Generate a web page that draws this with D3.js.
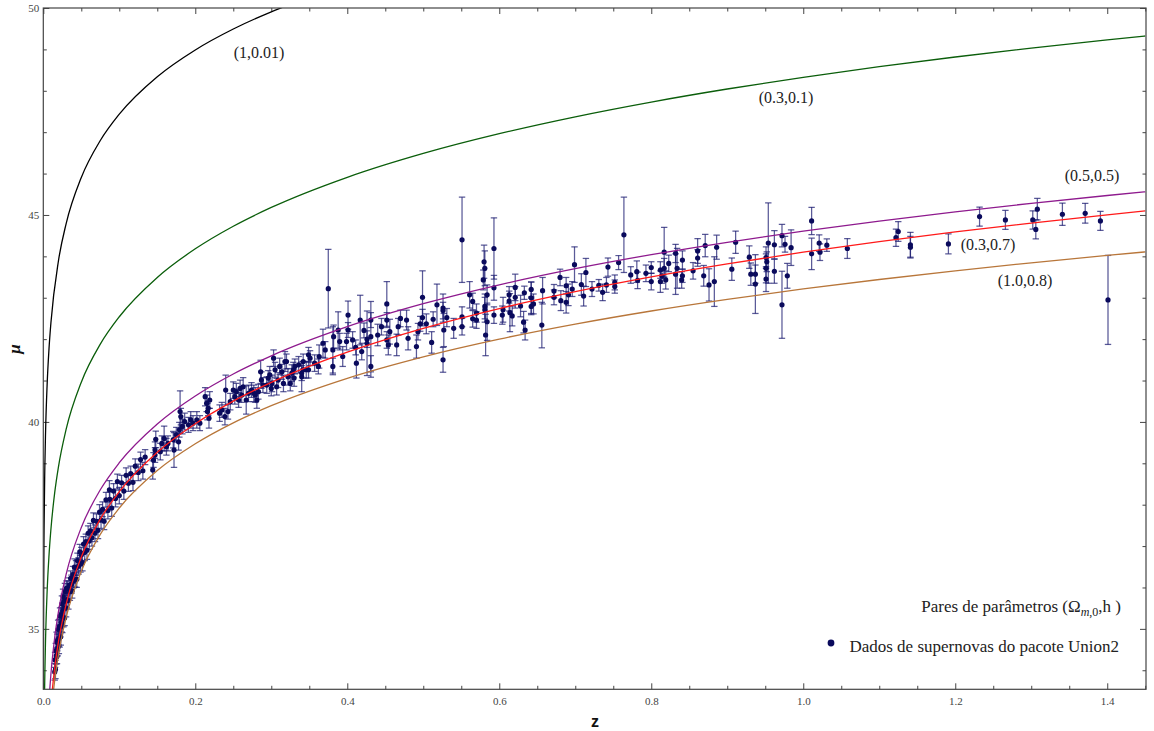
<!DOCTYPE html>
<html><head><meta charset="utf-8">
<script src="https://cdn.jsdelivr.net/npm/d3@7"></script>
<style>
body{margin:0;background:#fff}
svg{display:block}
text{font-family:"Liberation Serif","Times New Roman",serif}
</style>
</head><body><svg id="chart" width="1154" height="731"></svg>
<script>
// ---- axis settings / tick labels ----
const xDomain = [0, 1.451];
const yDomain = [33.54, 50];
const xMajorTicks = [0, 0.2, 0.4, 0.6, 0.8, 1.0, 1.2, 1.4];
const yMajorTicks = [35, 40, 45, 50];

// ---- theoretical curves (Omega_m0, h), read as sampled values ----
const zBlack  = [0.00015,0.0002,0.0005,0.001,0.002,0.003,0.005,0.0075,0.01,0.02,0.03,0.05,0.075,0.1,0.15,0.2,0.25,0.3,0.32];
const muBlack = [33.265,33.889,35.879,37.385,38.890,39.771,40.882,41.764,42.390,43.900,44.786,45.905,46.798,47.435,48.339,48.986,49.492,49.907,50.055];

const zGreen  = [0.0015,0.002,0.003,0.005,0.0075,0.01,0.015,0.02,0.03,0.05,0.075,0.1,0.15,0.2,0.25,0.3,0.4,0.5,0.6,0.7,0.8,0.9,1.0,1.1,1.2,1.3,1.4,1.45];
const muGreen = [33.265,33.894,34.775,35.890,36.772,37.401,38.290,38.922,39.819,40.960,41.879,42.541,43.491,44.182,44.728,45.181,45.910,46.487,46.964,47.372,47.728,48.043,48.326,48.582,48.816,49.031,49.230,49.324];

const zPurple  = [0.008,0.01,0.015,0.02,0.03,0.05,0.075,0.1,0.15,0.2,0.25,0.3,0.4,0.5,0.6,0.7,0.8,0.9,1.0,1.1,1.2,1.3,1.4,1.45];
const muPurple = [33.416,33.903,34.790,35.421,36.315,37.449,38.360,39.014,39.950,40.626,41.157,41.597,42.301,42.855,43.312,43.702,44.040,44.340,44.609,44.853,45.076,45.281,45.470,45.560];

const zRed  = [0.01,0.015,0.02,0.03,0.05,0.075,0.1,0.15,0.2,0.25,0.3,0.4,0.5,0.6,0.7,0.8,0.9,1.0,1.1,1.2,1.3,1.4,1.45];
const muRed = [33.175,34.064,34.697,35.594,36.735,37.653,38.315,39.266,39.956,40.502,40.955,41.685,42.261,42.739,43.147,43.503,43.818,44.100,44.356,44.590,44.805,45.004,45.098];

const zBrown  = [0.012,0.015,0.02,0.03,0.05,0.075,0.1,0.15,0.2,0.25,0.3,0.4,0.5,0.6,0.7,0.8,0.9,1.0,1.1,1.2,1.3,1.4,1.45];
const muBrown = [33.271,33.757,34.385,35.271,36.390,37.283,37.920,38.824,39.471,39.977,40.392,41.054,41.573,42.000,42.363,42.680,42.961,43.213,43.441,43.651,43.844,44.023,44.108];

const curveNames  = ["(1,0.01)","(0.3,0.1)","(0.5,0.5)","(0.3,0.7)","(1.0,0.8)"];
const curveColors = ["#000000","#0b5e0b","#8e1a8e","#ff1a1a","#b8763a"];

// ---- Union2 supernovae: [z, mu, error] ----
const snPoints = [
[0.0150,33.96,0.20],[0.0155,34.25,0.18],[0.0160,34.02,0.22],[0.0165,34.47,0.18],[0.0170,34.35,0.20],
[0.0175,34.70,0.22],[0.0180,34.34,0.18],[0.0185,34.67,0.20],[0.0190,34.53,0.18],[0.0195,34.99,0.22],
[0.0200,34.75,0.18],[0.0205,34.60,0.20],[0.0210,35.05,0.18],[0.0215,34.78,0.22],[0.0220,35.31,0.20],
[0.0225,35.06,0.18],[0.0230,34.81,0.20],[0.0235,35.34,0.18],[0.0240,35.15,0.22],[0.0245,35.60,0.20],
[0.0250,35.09,0.18],[0.0255,35.43,0.20],[0.0260,35.78,0.18],[0.0265,35.27,0.22],[0.0270,35.66,0.18],
[0.0275,35.50,0.20],[0.0280,35.26,0.18],[0.0285,35.90,0.20],[0.0290,35.67,0.18],[0.0300,35.51,0.22],
[0.0305,35.98,0.18],[0.0310,35.71,0.20],[0.0320,35.98,0.18],[0.0330,35.68,0.20],[0.0340,36.05,0.18],
[0.0350,35.89,0.20],[0.0360,36.22,0.18],[0.0370,36.08,0.22],[0.0380,35.92,0.18],[0.0390,36.31,0.20],
[0.0400,36.17,0.18],[0.0410,36.49,0.20],[0.0420,36.19,0.18],[0.0430,36.47,0.18],[0.0440,36.20,0.20],
[0.0450,36.65,0.18],[0.0465,36.52,0.20],[0.0480,36.86,0.18],[0.0490,36.57,0.20],[0.0500,36.79,0.18],
[0.0515,36.60,0.20],[0.0530,37.05,0.18],[0.0545,36.85,0.20],[0.0560,37.11,0.18],[0.0575,36.90,0.22],
[0.0590,37.31,0.18],[0.0605,37.12,0.20],[0.0620,37.37,0.18],[0.0640,37.20,0.20],[0.0660,37.62,0.18],
[0.0680,37.31,0.20],[0.0700,37.60,0.18],[0.0720,37.38,0.20],[0.0740,37.82,0.18],[0.0760,37.63,0.20],
[0.0780,37.89,0.18],[0.0800,37.60,0.20],[0.0825,38.12,0.18],[0.0850,37.86,0.20],[0.0875,38.13,0.18],
[0.0870,38.36,0.22],[0.0900,37.92,0.20],[0.0925,38.33,0.18],[0.0950,38.15,0.20],[0.0975,38.56,0.18],
[0.1000,38.22,0.20],[0.1030,38.53,0.18],[0.1060,38.33,0.20],[0.1090,38.71,0.18],[0.1120,38.52,0.20],
[0.1150,38.75,0.18],[0.1180,38.54,0.20],[0.1210,38.93,0.18],[0.1250,38.78,0.20],[0.1280,39.09,0.18],
[0.1310,38.82,0.20],[0.1340,39.15,0.18],
[0.144,38.84,0.22],[0.145,39.08,0.18],[0.147,39.32,0.20],[0.148,39.58,0.20],[0.147,39.20,0.18],
[0.154,39.28,0.20],[0.156,39.48,0.18],[0.159,39.60,0.30],[0.162,39.40,0.20],[0.164,39.48,0.18],
[0.171,39.57,0.20],[0.172,39.32,0.42],[0.175,39.69,0.18],[0.178,39.52,0.20],[0.179,39.81,0.18],
[0.180,40.25,0.50],[0.181,40.13,0.20],[0.183,39.89,0.18],[0.186,40.01,0.20],[0.191,39.93,0.18],
[0.194,40.05,0.20],[0.197,39.97,0.18],[0.202,40.05,0.20],[0.206,39.97,0.18],[0.213,40.61,0.22],
[0.215,40.45,0.20],[0.217,40.33,0.18],[0.216,40.25,0.20],[0.218,40.09,0.24],[0.219,40.53,0.20],
[0.232,40.21,0.20],[0.235,40.29,0.18],[0.239,40.13,0.20],[0.240,40.77,0.36],[0.243,40.25,0.18],
[0.246,40.49,0.20],[0.250,40.77,0.20],[0.252,40.61,0.18],[0.254,40.73,0.20],[0.257,40.53,0.18],
[0.259,40.81,0.20],[0.261,40.65,0.18],[0.263,40.85,0.22],[0.267,40.53,0.34],[0.270,40.69,0.20],
[0.274,40.77,0.18],[0.277,40.69,0.20],[0.279,40.65,0.18],[0.281,40.53,0.20],[0.283,40.73,0.18],
[0.286,41.21,0.28],[0.287,41.01,0.20],[0.289,40.89,0.18],[0.294,40.89,0.20],[0.296,41.06,0.18],
[0.298,41.14,0.20],[0.300,40.81,0.18],[0.301,40.93,0.20],[0.303,41.54,0.20],[0.305,41.26,0.18],
[0.307,40.85,0.20],[0.309,41.01,0.18],[0.311,41.34,0.20],[0.314,41.21,0.18],[0.316,40.93,0.20],
[0.318,41.46,0.24],[0.320,41.46,0.18],[0.322,41.09,0.20],[0.325,40.93,0.18],[0.327,41.18,0.20],
[0.329,41.26,0.18],[0.330,41.06,0.20],[0.331,41.34,0.18],[0.336,41.38,0.20],[0.340,41.09,0.36],
[0.340,41.18,0.18],[0.342,41.26,0.20],[0.342,41.46,0.18],[0.346,41.26,0.20],[0.349,41.62,0.18],
[0.349,41.26,0.20],[0.351,41.54,0.18],[0.357,41.42,0.20],[0.362,41.34,0.18],[0.363,41.58,0.28],
[0.368,41.90,0.34],[0.371,41.74,0.20],[0.375,43.22,0.95],[0.381,41.74,0.56],[0.381,41.34,0.20],
[0.382,42.06,0.28],[0.388,42.22,0.44],[0.390,41.94,0.20],[0.394,41.58,0.24],[0.399,41.94,0.20],
[0.401,42.58,0.34],[0.401,42.22,0.18],[0.407,41.98,0.20],[0.411,41.80,0.18],[0.412,41.42,0.36],
[0.417,42.46,0.60],[0.419,41.70,0.20],[0.422,42.21,0.18],[0.426,41.90,0.78],[0.426,42.00,0.20],
[0.431,42.06,0.85],[0.431,42.46,0.18],[0.431,41.34,0.26],[0.440,42.10,0.26],[0.445,42.30,0.20],
[0.452,42.85,0.54],[0.452,42.46,0.18],[0.452,41.98,0.20],[0.454,41.86,0.24],[0.456,42.18,0.30],
[0.465,41.86,0.26],[0.467,42.30,0.20],[0.470,42.50,0.20],[0.478,42.46,0.24],[0.480,42.02,0.28],
[0.491,41.82,0.28],[0.493,42.18,0.20],[0.496,42.37,0.18],[0.499,43.01,0.64],[0.499,42.52,0.20],
[0.504,42.37,0.24],[0.511,41.92,0.26],[0.513,42.48,0.18],[0.518,42.83,0.50],[0.526,42.75,0.34],
[0.526,42.69,0.20],[0.526,41.50,0.30],[0.527,42.22,0.40],[0.531,42.52,0.22],[0.540,42.26,0.24],
[0.551,44.40,1.03],[0.551,42.54,0.24],[0.551,42.30,0.20],[0.561,43.07,0.32],[0.565,42.91,0.20],
[0.565,42.49,0.20],[0.570,42.63,0.22],[0.570,42.46,0.20],[0.579,43.43,0.24],[0.580,43.87,0.40],
[0.581,43.71,0.42],[0.581,42.79,0.30],[0.581,42.71,0.30],[0.582,42.10,0.50],[0.584,42.42,0.45],
[0.584,43.07,0.24],[0.593,44.19,0.74],[0.593,43.24,0.30],[0.593,42.58,0.20],[0.604,42.58,0.22],
[0.605,42.71,0.30],[0.613,42.92,0.24],[0.613,43.07,0.20],[0.614,42.64,0.46],[0.617,42.56,0.24],
[0.621,43.25,0.32],[0.621,43.01,0.26],[0.628,42.80,0.26],[0.632,42.41,0.26],[0.633,43.12,0.16],
[0.634,42.22,0.24],[0.642,43.00,0.38],[0.642,43.20,0.18],[0.642,42.79,0.20],[0.645,42.85,0.24],
[0.656,42.34,0.55],[0.657,43.17,0.32],[0.672,43.01,0.18],[0.672,43.16,0.16],[0.680,43.49,0.20],
[0.681,42.93,0.24],[0.688,42.89,0.26],[0.688,43.29,0.20],[0.691,43.07,0.26],[0.696,43.21,0.18],
[0.699,43.80,0.43],[0.708,43.32,0.26],[0.711,43.04,0.24],[0.714,43.61,0.34],[0.722,43.21,0.18],
[0.731,43.30,0.14],[0.736,43.13,0.20],[0.741,43.31,0.18],[0.743,43.74,0.22],[0.752,43.27,0.16],
[0.752,43.37,0.18],[0.757,43.85,0.17],[0.764,44.52,0.91],[0.773,43.55,0.20],[0.781,43.63,0.26],
[0.782,43.42,0.20],[0.793,43.59,0.20],
[0.800,43.73,0.14],[0.800,43.39,0.20],[0.812,43.67,0.20],[0.812,43.39,0.26],[0.814,43.53,0.18],
[0.817,44.10,0.60],[0.817,43.71,0.24],[0.819,43.43,0.22],[0.823,43.83,0.20],[0.832,44.07,0.22],
[0.832,43.57,0.49],[0.834,43.71,0.48],[0.840,43.43,0.20],[0.841,43.53,0.16],[0.841,43.91,0.22],
[0.855,43.65,0.20],[0.861,44.13,0.30],[0.861,43.96,0.20],[0.869,43.53,0.25],[0.871,44.26,0.27],
[0.876,43.31,0.39],[0.883,43.39,0.60],[0.886,44.22,0.29],[0.906,43.69,0.27],[0.911,44.34,0.27],
[0.929,43.98,0.27],[0.931,43.57,0.27],[0.937,43.57,0.22],[0.937,43.33,0.71],[0.951,43.97,0.26],
[0.951,43.71,0.35],[0.951,43.45,0.30],[0.952,43.87,0.24],[0.954,44.32,0.97],[0.962,44.28,0.34],
[0.962,43.64,0.29],[0.972,44.50,0.27],[0.972,42.83,0.81],[0.976,44.29,0.19],[0.979,43.53,0.30],
[0.984,44.21,0.43],[1.011,44.855,0.33],[1.011,44.06,0.38],[1.021,44.32,0.20],[1.022,44.10,0.20],
[1.031,44.27,0.15],[1.058,44.19,0.24],[1.122,44.45,0.21],[1.125,44.60,0.24],[1.141,44.28,0.30],
[1.141,44.22,0.26],[1.191,44.30,0.24],[1.232,44.96,0.23],[1.266,44.88,0.23],[1.302,44.88,0.22],
[1.306,44.65,0.23],[1.308,45.14,0.26],[1.341,45.017,0.27],[1.371,45.04,0.24],[1.391,44.855,0.23],
[1.401,42.947,1.075]
];

// ---- layout ----
const L = 43.3, T = 8, R = 1146, B = 689.3;

const svg = d3.select("#chart");
const x = d3.scaleLinear().domain(xDomain).range([L, R]);
const y = d3.scaleLinear().domain(yDomain).range([B, T]);

svg.append("defs").append("clipPath").attr("id","plotclip")
  .append("rect").attr("x",L).attr("y",T).attr("width",R-L).attr("height",B-T);

// ---- axes / frame ----
const frameColor = "#444";
const labelColor = "#444";
const xMinor = d3.range(0, 1.451, 0.05).filter(v => !xMajorTicks.some(m => Math.abs(m - v) < 1e-6));
const yMinor = d3.range(34, 50, 1).filter(v => !yMajorTicks.includes(v));

function styleAxis(g){
  g.select(".domain").remove();
  g.selectAll(".tick line").attr("stroke", frameColor).attr("stroke-width", 1);
  g.selectAll(".tick text").attr("fill", labelColor).attr("font-size", 11)
    .attr("font-family", "'Liberation Serif','Times New Roman',serif");
}

svg.append("g").attr("transform",`translate(0,${B})`)
  .call(d3.axisBottom(x).tickValues(xMajorTicks).tickSize(-6).tickPadding(8).tickFormat(d3.format(".1f")))
  .call(styleAxis);
svg.append("g").attr("transform",`translate(0,${B})`)
  .call(d3.axisBottom(x).tickValues(xMinor).tickSize(-3.5).tickFormat(""))
  .call(styleAxis);
svg.append("g").attr("transform",`translate(0,${T})`)
  .call(d3.axisTop(x).tickValues(xMajorTicks).tickSize(-6).tickFormat(""))
  .call(styleAxis);
svg.append("g").attr("transform",`translate(0,${T})`)
  .call(d3.axisTop(x).tickValues(xMinor).tickSize(-3.5).tickFormat(""))
  .call(styleAxis);
svg.append("g").attr("transform",`translate(${L},0)`)
  .call(d3.axisLeft(y).tickValues(yMajorTicks).tickSize(-6).tickPadding(4).tickFormat(d3.format("d")))
  .call(styleAxis);
svg.append("g").attr("transform",`translate(${L},0)`)
  .call(d3.axisLeft(y).tickValues(yMinor).tickSize(-3.5).tickFormat(""))
  .call(styleAxis);
svg.append("g").attr("transform",`translate(${R},0)`)
  .call(d3.axisRight(y).tickValues(yMajorTicks).tickSize(-6).tickFormat(""))
  .call(styleAxis);
svg.append("g").attr("transform",`translate(${R},0)`)
  .call(d3.axisRight(y).tickValues(yMinor).tickSize(-3.5).tickFormat(""))
  .call(styleAxis);

// ---- data points with error bars ----
const plot = svg.append("g").attr("clip-path","url(#plotclip)");
const barColor = "#1a1a70";
const capW = 3.2;
const eb = plot.append("g").attr("stroke", barColor).attr("stroke-opacity", 0.72).attr("stroke-width", 1.25).attr("fill","none");
snPoints.forEach(([z, mu, e]) => {
  const px = x(z), y1 = y(mu - e), y2 = y(mu + e);
  eb.append("line").attr("x1",px).attr("x2",px).attr("y1",y1).attr("y2",y2);
  eb.append("line").attr("x1",px-capW).attr("x2",px+capW).attr("y1",y1).attr("y2",y1);
  eb.append("line").attr("x1",px-capW).attr("x2",px+capW).attr("y1",y2).attr("y2",y2);
});
plot.append("g").selectAll("circle").data(snPoints).join("circle")
  .attr("cx", d => x(d[0])).attr("cy", d => y(d[1])).attr("r", 2.6).attr("fill", "#0a0a5c");

// ---- theoretical curves ----
const line = d3.line().x(d => x(d[0])).y(d => y(d[1])).curve(d3.curveMonotoneX);
const curveSets = [
  [zBlack, muBlack], [zGreen, muGreen], [zPurple, muPurple], [zRed, muRed], [zBrown, muBrown]
];
curveSets.forEach(([zs, ms], i) => {
  plot.append("path").datum(zs.map((z, k) => [z, ms[k]]))
    .attr("d", line).attr("fill","none").attr("stroke", curveColors[i]).attr("stroke-width", 1.3);
});

// frame
svg.append("rect").attr("x",L).attr("y",T).attr("width",R-L).attr("height",B-T)
  .attr("fill","none").attr("stroke",frameColor).attr("stroke-width",1.2);

// ---- curve labels ----
const labelPos = [[259,58],[786,103],[1092,181],[988,250],[1025,286]];
curveNames.forEach((n, i) => {
  svg.append("text").attr("x", labelPos[i][0]).attr("y", labelPos[i][1])
    .attr("text-anchor","middle").attr("font-size",16).attr("fill","#222").text(n);
});

// ---- legend ----
const lg1 = svg.append("text").attr("x",1121).attr("y",612).attr("text-anchor","end")
  .attr("font-size",17).attr("fill","#222");
lg1.append("tspan").text("Pares de parâmetros (Ω");
lg1.append("tspan").attr("dy",4).attr("font-size",12).attr("font-style","italic").text("m");
lg1.append("tspan").attr("font-size",12).text(",0");
lg1.append("tspan").attr("dy",-4).text(",h )");

svg.append("circle").attr("cx",831).attr("cy",643).attr("r",3.4).attr("fill","#0a0a5c");
svg.append("text").attr("x",1119).attr("y",652).attr("text-anchor","end")
  .attr("font-size",17).attr("fill","#222").text("Dados de supernovas do pacote Union2");

// ---- axis titles ----
svg.append("text").attr("transform","translate(20,349) rotate(-90)")
  .attr("text-anchor","middle").attr("font-size",17).attr("font-weight","bold")
  .attr("font-style","italic").attr("fill","#111").text("μ");
svg.append("text").attr("x",595).attr("y",727).attr("text-anchor","middle")
  .attr("font-size",16).attr("font-weight","bold").attr("fill","#111")
  .style("font-family","'Liberation Sans',Arial,sans-serif").text("z");
</script>
</body></html>
